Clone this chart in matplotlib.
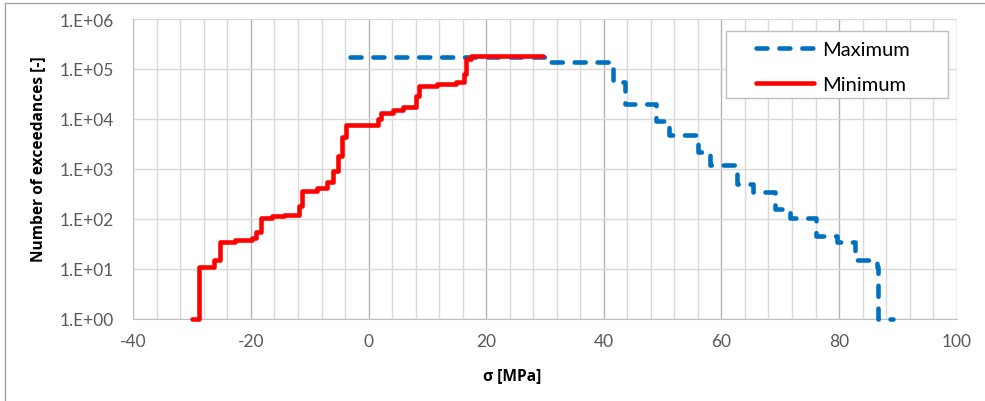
import matplotlib
matplotlib.use("Agg")
import matplotlib.pyplot as plt
from matplotlib.lines import Line2D
from matplotlib.patches import Rectangle

# minimum stress exceedance curve (step corners)
min_x = [-30.1, -28.9, -26.2, -25.2, -22.7, -19.8, -19.1, -18.3, -16.4, -14.4,
         -11.9, -11.3, -8.8, -7.1, -6.0, -5.2, -4.6, -3.8, 1.6, 2.2,
         4.1, 5.8, 8.1, 8.6, 11.7, 14.9, 16.3, 16.6, 17.4, 29.7]
min_y = [1, 10.8, 15, 35, 38, 41, 54, 103, 113, 122,
         185, 370, 410, 540, 930, 1850, 4300, 7600, 10000, 13000,
         15400, 17100, 29300, 45000, 50000, 54000, 79000, 158000, 178000, 178000]

# maximum stress exceedance curve
max_x = [-3.2, 30.3, 41.5, 43.6, 48.9, 51.0, 56.0, 58.0, 62.6, 65.4,
         69.1, 71.7, 76.1, 79.6, 82.7, 86.4, 86.7, 89.2]
max_y = [175000, 136000, 54000, 20000, 9000, 4800, 2150, 1230, 500, 340,
         158, 103, 46, 34, 15.4, 11, 1, 1]

y_ticks = [1e0, 1e1, 1e2, 1e3, 1e4, 1e5, 1e6]
y_labels = ["1.E+00", "1.E+01", "1.E+02", "1.E+03", "1.E+04", "1.E+05", "1.E+06"]

plt.rcParams['font.family'] = ['Lato', 'DejaVu Sans']
plt.rcParams['axes.unicode_minus'] = False

fig = plt.figure(figsize=(9.85, 4.02), dpi=100)
ax = fig.add_axes([133.3 / 985, 82 / 402, 823.4 / 985, 300 / 402])

ax.plot(max_x, max_y, drawstyle='steps-post', color='#0070c0', lw=3.3,
        linestyle=(0, (2.4, 2.6)), dash_capstyle='round', label='Maximum',
        clip_on=False, zorder=3)
ax.plot(min_x, min_y, drawstyle='steps-post', color='#ff0000', lw=3.3,
        solid_capstyle='round', label='Minimum', clip_on=False, zorder=4)

ax.set_yscale('log')
ax.set_ylim(1, 1e6)
ax.set_xlim(-40, 100)
ax.set_yticks(y_ticks)
ax.set_yticklabels(y_labels)
ax.yaxis.set_minor_locator(matplotlib.ticker.NullLocator())
ax.set_xticks(range(-40, 101, 20))
ax.set_xticks(range(-40, 101, 4), minor=True)

ax.grid(True, which='major', axis='x', color='#b3b3b3', lw=1)
ax.grid(True, which='minor', axis='x', color='#d9d9d9', lw=1)
ax.grid(True, which='major', axis='y', color='#d9d9d9', lw=1)
ax.set_axisbelow(True)

ax.tick_params(which='both', length=0, labelsize=12.5, labelcolor='#595959')
ax.tick_params(axis='y', pad=14)
ax.tick_params(axis='x', pad=10)

for side in ['top', 'right']:
    ax.spines[side].set_visible(False)
for side in ['left', 'bottom']:
    ax.spines[side].set_color('#bfbfbf')

label_font = dict(fontsize=11.2, fontweight='bold', family=['Open Sans', 'DejaVu Sans'])
ax.set_xlabel('σ [MPa]', **label_font)
ax.set_ylabel('Number of exceedances [-]', **label_font)
ax.xaxis.set_label_coords(0.46, -0.16)
ax.yaxis.set_label_coords(-0.106, 0.537)

# legend box drawn separately so its padding matches the reference
ax.add_patch(Rectangle((0.7195, 0.737), 0.2703, 0.222, transform=ax.transAxes,
                       facecolor='white', edgecolor='#bfbfbf', lw=1, zorder=4.9,
                       clip_on=False))
leg = ax.legend(loc='upper left', bbox_to_anchor=(0.756, 0.928), borderaxespad=0,
                frameon=False, fontsize=14.5, borderpad=0,
                handlelength=2.9, handletextpad=0.4, labelspacing=0.9)
leg.set_zorder(5)

# outer chart border
fig.add_artist(Line2D([5 / 985, 5 / 985], [0, 1 - 4 / 402], transform=fig.transFigure,
                      color='#a6a6a6', lw=1))
fig.add_artist(Line2D([5 / 985, 1], [1 - 4 / 402, 1 - 4 / 402], transform=fig.transFigure,
                      color='#a6a6a6', lw=1))

fig.savefig('out.png', dpi=100)
